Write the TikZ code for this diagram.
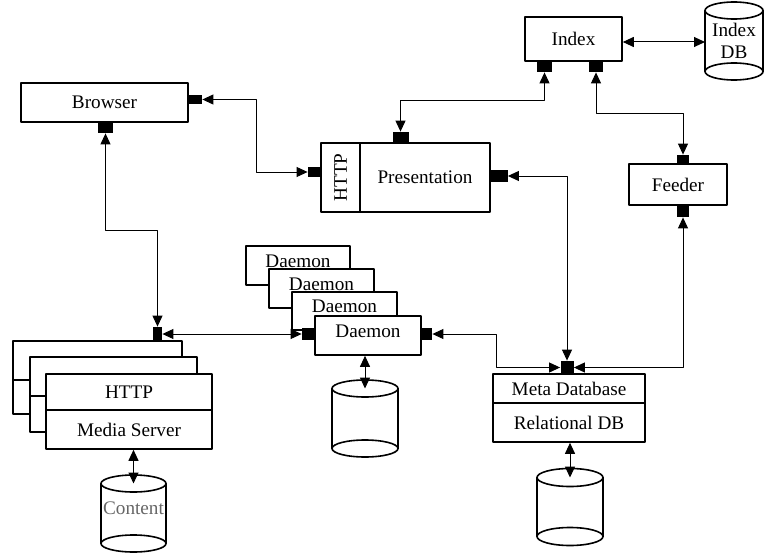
\documentclass[tikz,border=0pt]{standalone}
\usepackage{fontspec}
\setmainfont{Liberation Serif}
\usetikzlibrary{arrows.meta}
\begin{document}
\begin{tikzpicture}[x=0.5pt, y=-0.5pt, line cap=round, line join=round,
  font=\fontsize{9.6}{11}\selectfont,
  >={Triangle[length=5.5pt,width=5pt]},
  box/.style={draw, line width=0.8pt, fill=white, inner sep=0pt},
  dtext/.style={text height=6.5pt, text depth=5pt},
  port/.style={fill=black, inner sep=0pt},
  link/.style={<->, line width=0.5pt},
  db/.style={line width=0.8pt}]
\useasboundingbox (0,0) rectangle (765,556);
% top row
\node [box, minimum width=83.5pt, minimum height=19.5pt] (browser) at (104.5,102.5) {Browser};
\node [port, minimum width=7pt, minimum height=4.5pt] (bR) at (195,99.5) {};
\node [port, minimum width=7.5pt, minimum height=5.5pt] (bB) at (105.5,127.5) {};
\node [box, minimum width=19.5pt, minimum height=34.5pt] (http) at (340.5,177.5) {\rotatebox{90}{HTTP}};
\node [box, minimum width=65pt, minimum height=34.5pt] (pres) at (425,177.5) {Presentation};
\node [port, minimum width=6.5pt, minimum height=5pt] (pL) at (314.5,172) {};
\node [port, minimum width=8pt, minimum height=5.5pt] (pT) at (400.5,137.5) {};
\node [port, minimum width=8.5pt, minimum height=6pt] (pR) at (499,176) {};
\node [box, minimum width=48.5pt, minimum height=22pt] (index) at (573.5,39) {Index};
\node [port, minimum width=7.5pt, minimum height=5.5pt] (iL) at (544.5,66.5) {};
\node [port, minimum width=7pt, minimum height=5.5pt] (iR) at (596,66.5) {};
\node [box, minimum width=49pt, minimum height=20.5pt] (feeder) at (678,184.5) {Feeder};
\node [port, minimum width=6pt, minimum height=4.5pt] (fT) at (683,159.5) {};
\node [port, minimum width=6pt, minimum height=6pt] (fB) at (683,211) {};
% index db
\coordinate (iDB) at (734,10.5);
\coordinate (iDBw) at (705,42);
\draw [db] (705,10.5) -- (705,71.5) (763,10.5) -- (763,71.5);
\draw [db] (iDB) ellipse [x radius=29, y radius=8.5];
\draw [db] (734,71.5) ellipse [x radius=29, y radius=8.5];
\node [align=center] (iDBt) at (734,41) {Index\\DB};
% media servers
\node [box, minimum width=84.5pt, minimum height=19.5pt] (m1a) at (97.5,360.5) {};
\node [box, minimum width=84.5pt, minimum height=17pt] (m1b) at (97.5,397) {};
\node [box, minimum width=83.5pt, minimum height=19.5pt] (m2a) at (113.5,376.5) {};
\node [box, minimum width=83.5pt, minimum height=18pt] (m2b) at (113.5,414) {};
\node [box, minimum width=83pt, minimum height=18pt] (mHttp) at (129,392) {HTTP};
\node [box, minimum width=83pt, minimum height=19.5pt] (mSrv) at (129,429.5) {Media Server};
\node [port, minimum width=4.5pt, minimum height=7pt] (mP) at (157.5,334) {};
\coordinate (cont) at (133.5,483.5);
\draw [db] (101,483.5) -- (101,543.5) (166,483.5) -- (166,543.5);
\draw [db] (cont) ellipse [x radius=32.5, y radius=8.5];
\draw [db] (133.5,543.5) ellipse [x radius=32.5, y radius=8.5];
\node [text=black!60] (contT) at (133.5,508) {Content};
% daemons
\node [box, dtext, minimum width=52pt, minimum height=19.5pt] (d1) at (298,265.5) {Daemon};
\node [box, dtext, minimum width=52.5pt, minimum height=19.5pt] (d2) at (321.5,288.5) {Daemon};
\node [box, dtext, minimum width=52.5pt, minimum height=19pt] (d3) at (344.5,311) {Daemon};
\node [box, dtext, minimum width=53pt, minimum height=19.5pt] (d4) at (368,335.5) {Daemon};
\node [port, minimum width=6.5pt, minimum height=6pt] (dL) at (308.5,334) {};
\node [port, minimum width=5.5pt, minimum height=6pt] (dR) at (426.5,334) {};
\coordinate (dcyl) at (365,388.5);
\draw [db] (332,388.5) -- (332,448.5) (398,388.5) -- (398,448.5);
\draw [db] (dcyl) ellipse [x radius=33, y radius=8.5];
\draw [db] (365,448.5) ellipse [x radius=33, y radius=8.5];
% meta database
\node [box, minimum width=76pt, minimum height=14.5pt] (mdbT) at (569,388.5) {Meta Database};
\node [box, minimum width=76pt, minimum height=19.5pt] (mdbB) at (569,422.5) {Relational DB};
\node [port, minimum width=6.5pt, minimum height=6.5pt] (mdP) at (567,367.5) {};
\coordinate (mcyl) at (570,477.5);
\draw [db] (537,477.5) -- (537,536.5) (603,477.5) -- (603,536.5);
\draw [db] (mcyl) ellipse [x radius=33, y radius=9];
\draw [db] (570,536.5) ellipse [x radius=33, y radius=9];
% connectors
\draw [link] (bR.east) -- ++(54,0) |- (pL.west);
\draw [link] (bB.south) -- ++(0,97) -| (mP.north);
\draw [link] (mP.east) -- (dL.west);
\draw [link] (iL.south) -- ++(0,28) -| (pT.north);
\draw [link] (iR.south) -- ++(0,41) -| (fT.north);
\draw [link] (index.east |- iDBw) -- (iDBw);
\draw [link] (pR.east) -| (mdP.north);
\draw [link] (dR.east) -- ++(64,0) |- (mdP.west);
\draw [link] (fB.south) |- (mdP.east);
\draw [link] (mSrv.south -| cont) -- (cont);
\draw [link] (d4.south -| dcyl) -- (dcyl);
\draw [link] (mdbB.south -| mcyl) -- (mcyl);
\end{tikzpicture}
\end{document}
